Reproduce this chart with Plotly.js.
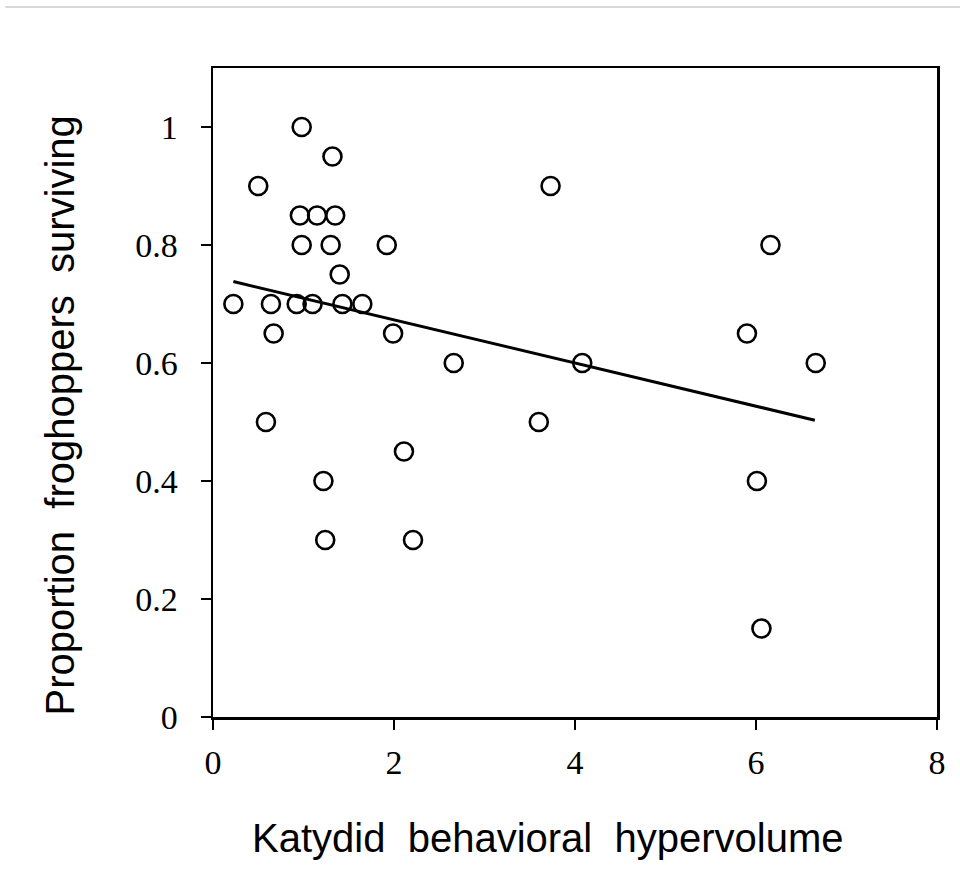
<!DOCTYPE html>
<html>
<head>
<meta charset="utf-8">
<script src="https://cdn.plot.ly/plotly-3.0.1.min.js"></script>
<style>html,body{margin:0;padding:0;background:#fff;}#chart{width:960px;height:886px;}</style>
</head>
<body>
<div id="chart"></div>
<script>
// Katydid behavioral hypervolume (x) vs proportion froghoppers surviving (y)
const hypervolume = [0.98, 1.32, 0.50, 3.73, 0.96, 1.15, 1.35, 0.98, 1.30, 1.92, 6.16,
  1.40, 0.225, 0.64, 0.925, 1.10, 1.43, 1.65, 0.67, 1.99, 5.90,
  2.66, 4.08, 6.66, 0.585, 3.60, 2.11, 1.22, 6.01, 1.24, 2.21, 6.06];
const survival = [1.00, 0.95, 0.90, 0.90, 0.85, 0.85, 0.85, 0.80, 0.80, 0.80, 0.80,
  0.75, 0.70, 0.70, 0.70, 0.70, 0.70, 0.70, 0.65, 0.65, 0.65,
  0.60, 0.60, 0.60, 0.50, 0.50, 0.45, 0.40, 0.40, 0.30, 0.30, 0.15];
// Fitted regression line (endpoints)
const fitX = [0.225, 6.65];
const fitY = [0.738, 0.503];
const xTicks = [0, 2, 4, 6, 8];
const yTicks = [0, 0.2, 0.4, 0.6, 0.8, 1];
const yTickText = ['0', '0.2', '0.4', '0.6', '0.8', '1'];
const xTitle = 'Katydid\u00A0 behavioral\u00A0 hypervolume';
const yTitle = 'Proportion\u00A0 froghoppers\u00A0 surviving';

const tickFont = {family: 'Liberation Serif, Times New Roman, serif', size: 34, color: '#000'};
const titleFont = {family: 'Liberation Sans, Arial, sans-serif', size: 40, color: '#000'};

const traces = [
  {x: fitX, y: fitY, type: 'scatter', mode: 'lines',
   line: {color: '#000', width: 3}, hoverinfo: 'skip', showlegend: false},
  {x: hypervolume, y: survival, type: 'scatter', mode: 'markers',
   marker: {symbol: 'circle-open', size: 18, color: '#000', line: {color: '#000', width: 2.6}},
   showlegend: false}
];

const layout = {
  width: 960, height: 886,
  margin: {l: 213, r: 23, t: 68, b: 169},
  paper_bgcolor: '#fff', plot_bgcolor: '#fff',
  showlegend: false,
  xaxis: {
    range: [0, 8], tickvals: xTicks, ticktext: xTicks.map(String),
    ticks: 'outside', ticklen: 10, tickwidth: 2.5, tickcolor: '#000',
    ticklabelstandoff: 4,
    showline: true, linecolor: '#000', linewidth: 2.5, mirror: true,
    showgrid: false, zeroline: false,
    tickfont: tickFont
  },
  yaxis: {
    range: [0, 1.1], tickvals: yTicks, ticktext: yTickText,
    ticks: 'outside', ticklen: 10, tickwidth: 2.5, tickcolor: '#000',
    ticklabelstandoff: 16,
    showline: true, linecolor: '#000', linewidth: 2.5, mirror: true,
    showgrid: false, zeroline: false,
    tickfont: tickFont
  },
  annotations: [
    {text: xTitle, xref: 'paper', yref: 'paper', x: 0.4627, y: -0.1864,
     xanchor: 'center', yanchor: 'middle', showarrow: false, font: titleFont},
    {text: yTitle, xref: 'paper', yref: 'paper', x: -0.212, y: 0.4638,
     xanchor: 'center', yanchor: 'middle', textangle: -90, showarrow: false, font: titleFont}
  ],
  shapes: [
    {type: 'line', xref: 'paper', yref: 'paper', x0: -0.287, x1: 1.032, y0: 1.094, y1: 1.094,
     line: {color: '#cccccc', width: 1.5}}
  ]
};

Plotly.newPlot('chart', traces, layout, {displayModeBar: false, staticPlot: true});
</script>
</body>
</html>
